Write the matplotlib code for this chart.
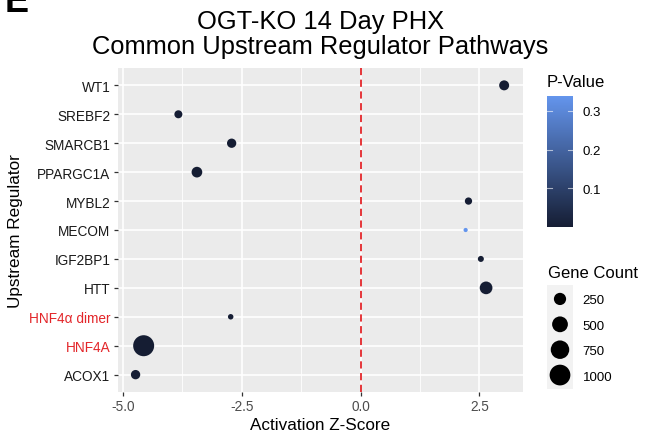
import numpy as np
import matplotlib
matplotlib.use("Agg")
import matplotlib.pyplot as plt
from matplotlib.colors import LinearSegmentedColormap, Normalize

plt.rcParams['font.family'] = ['Liberation Sans', 'DejaVu Sans']

# data (bottom to top)
regulators = ["ACOX1", "HNF4A", "HNF4\u03b1 dimer", "HTT", "IGF2BP1", "MECOM",
              "MYBL2", "PPARGC1A", "SMARCB1", "SREBF2", "WT1"]
z_scores = [-4.73, -4.56, -2.73, 2.64, 2.53, 2.21, 2.27, -3.44, -2.71, -3.83, 3.02]
gene_counts = [115, 1030, 26, 279, 32, 20, 54, 171, 113, 72, 140]
p_values = [0.002, 0.0005, 0.004, 0.001, 0.003, 0.339, 0.002, 0.001, 0.001, 0.002, 0.001]
red_labels = ["HNF4A", "HNF4\u03b1 dimer"]

size_breaks = [250, 500, 750, 1000]
p_ticks = [0.1, 0.2, 0.3]

LOW, HIGH = "#151D33", "#6495ED"
cmap = LinearSegmentedColormap.from_list("pv", [LOW, HIGH])
norm = Normalize(vmin=0.0, vmax=max(p_values))

cmin, cmax = min(gene_counts), max(gene_counts)
D_MIN, D_MAX = 4.2, 21.0  # diameters in pixels


def marker_size(v):
    v = np.asarray(v, dtype=float)
    t = np.clip((v - cmin) / (cmax - cmin), 0, 1)
    d = D_MIN + (D_MAX - D_MIN) * np.sqrt(t)
    return (d * 0.72) ** 2


W, H = 645, 435
fig = plt.figure(figsize=(W / 100, H / 100), dpi=100)
ax = fig.add_axes([117.5 / W, 1 - 393 / H, (522.7 - 117.5) / W, (393 - 69) / H])
ax.set_facecolor("#EBEBEB")
for s in ax.spines.values():
    s.set_visible(False)

ypos = np.arange(len(regulators))
ax.set_xlim(-5.11, 3.41)
ax.set_ylim(-0.6, len(regulators) - 0.4)
ax.set_xticks([-5.0, -2.5, 0.0, 2.5])
ax.set_xticklabels(["-5.0", "-2.5", "0.0", "2.5"])
ax.set_xticks([-3.75, -1.25, 1.25], minor=True)
ax.set_yticks(ypos)
ax.set_yticklabels(regulators)
ax.grid(which="major", color="white", lw=1.2)
ax.grid(which="minor", axis="x", color="white", lw=0.6)
ax.set_axisbelow(True)
ax.tick_params(which="major", length=3, width=0.9, color="#333333",
               labelsize=9.8, labelcolor="#4D4D4D", pad=2)
ax.tick_params(which="minor", length=0)
ax.tick_params(axis="y", labelcolor="#1A1A1A")
for lab in ax.get_yticklabels():
    if lab.get_text() in red_labels:
        lab.set_color("#E3262A")

ax.axvline(0, color="#E3262A", lw=1.3, ls=(0, (4, 2.5)), zorder=2)
ax.scatter(z_scores, ypos, s=marker_size(gene_counts), c=p_values, cmap=cmap,
           norm=norm, edgecolors="none", zorder=3)

ax.set_xlabel("Activation Z-Score", fontsize=12.3, labelpad=3)
ax.set_ylabel("Upstream Regulator", fontsize=12.3, labelpad=4)
ax.set_title("OGT-KO 14 Day PHX\nCommon Upstream Regulator Pathways",
             fontsize=18.4, pad=11, linespacing=1.05)

# panel letter, cut at the top edge as in the source figure
fig.text(5 / W, 1 - 12 / H, "E", fontsize=26, fontweight="bold", va="baseline")

# p-value colorbar
cax = fig.add_axes([547 / W, 1 - 228.3 / H, 26 / W, (228.3 - 96.7) / H])
cb = fig.colorbar(plt.cm.ScalarMappable(norm=norm, cmap=cmap), cax=cax)
cb.outline.set_visible(False)
cb.set_ticks(p_ticks)
cb.set_ticklabels([f"{t:.1f}" for t in p_ticks])
cax.tick_params(length=0, labelsize=9.5, labelcolor="black", pad=7)
for t in p_ticks:
    cax.axhline(t, xmin=0, xmax=0.2, color="white", lw=0.8, alpha=0.6)
    cax.axhline(t, xmin=0.8, xmax=1, color="white", lw=0.8, alpha=0.6)
fig.text(547 / W, 1 - 87 / H, "P-Value", fontsize=12, va="baseline")

# gene count legend
lax = fig.add_axes([547 / W, 1 - 390 / H, 26 / W, 104 / H])
lax.set_facecolor("#F2F2F2")
for s in lax.spines.values():
    s.set_visible(False)
lax.scatter(np.zeros(len(size_breaks)), np.arange(len(size_breaks)),
            s=marker_size(size_breaks), color="black", edgecolors="none")
lax.set_xlim(-0.5, 0.5)
lax.set_ylim(len(size_breaks) - 0.45, -0.55)
lax.set_xticks([])
lax.yaxis.tick_right()
lax.set_yticks(np.arange(len(size_breaks)))
lax.set_yticklabels([str(b) for b in size_breaks])
lax.tick_params(length=0, labelsize=9.5, pad=7)
fig.text(548 / W, 1 - 278 / H, "Gene Count", fontsize=12, va="baseline")

fig.savefig("out.png", dpi=100)
